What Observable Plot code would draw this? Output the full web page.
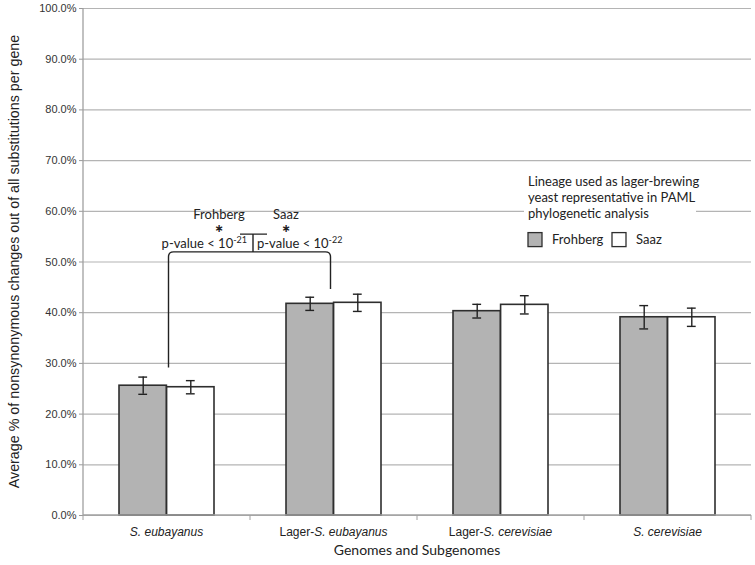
<!DOCTYPE html>
<html><head><meta charset="utf-8">
<script src="https://cdn.jsdelivr.net/npm/d3@7"></script>
<script src="https://cdn.jsdelivr.net/npm/@observablehq/plot@0.6"></script>
<style>body{margin:0;background:#fff}#chart{width:755px;height:565px}</style>
</head><body><div id="chart"></div>
<script>
// ---- data ----
const categories = ["S. eubayanus", "Lager-S. eubayanus", "Lager-S. cerevisiae", "S. cerevisiae"];
const series = ["Frohberg", "Saaz"];
const frohbergValues = [25.6, 41.75, 40.3, 39.1];
const frohbergErrors = [1.7, 1.3, 1.35, 2.3];
const saazValues = [25.3, 41.95, 41.55, 39.1];
const saazErrors = [1.3, 1.7, 1.8, 1.8];
const yTicks = [0, 10, 20, 30, 40, 50, 60, 70, 80, 90, 100];
const yTitle = "Average % of nonsynonymous changes out of all substitutions per gene";
const xTitle = "Genomes and Subgenomes";
const legendTitle = ["Lineage used as lager-brewing", "yeast representative in PAML", "phylogenetic analysis"];
const annotation = {left: "Frohberg", right: "Saaz", leftP: ["p-value < 10", "-21"], rightP: ["p-value < 10", "-22"]};

const fData = categories.map((c, i) => ({cat: c, series: "Frohberg", value: frohbergValues[i], err: frohbergErrors[i]}));
const sData = categories.map((c, i) => ({cat: c, series: "Saaz", value: saazValues[i], err: saazErrors[i]}));

// ---- layout ----
const W = 755, H = 565, mL = 83, mR = 4, mT = 8, mB = 50;
const padInner = 0.43;
const step = (W - mL - mR) / categories.length;
const bw = step * (1 - padInner);
const gridColor = "#b4b4b4";
const barStroke = "#2e2e2e";

function errMarks(data, dx) {
  const insL = bw / 2 + dx - 4.5, insR = bw / 2 - dx - 4.5;
  return [
    Plot.ruleX(data, {x: "cat", y1: d => d.value - d.err, y2: d => d.value + d.err, dx, stroke: "#222", strokeWidth: 1.4}),
    Plot.tickY(data, {x: "cat", y: d => d.value - d.err, insetLeft: insL, insetRight: insR, stroke: "#222", strokeWidth: 1.4}),
    Plot.tickY(data, {x: "cat", y: d => d.value + d.err, insetLeft: insL, insetRight: insR, stroke: "#222", strokeWidth: 1.4})
  ];
}

const chart = Plot.plot({
  width: W, height: H,
  marginLeft: mL, marginRight: mR, marginTop: mT, marginBottom: mB,
  style: {fontFamily: "'Liberation Sans', Arial, sans-serif", background: "#fff"},
  x: {type: "band", domain: categories, paddingInner: padInner, paddingOuter: padInner / 2, axis: null},
  y: {domain: [0, 100], axis: null},
  color: {domain: series, range: ["#b3b3b3", "#ffffff"]},
  marks: [
    Plot.gridY(yTicks, {stroke: gridColor, strokeOpacity: 1, strokeWidth: 1.2}),
    Plot.axisY(yTicks, {tickSize: 4, tickPadding: 3, stroke: "#999", tickFormat: d => d.toFixed(1) + "%", fontSize: 11, fill: "#333", label: null}),
    Plot.barY(fData, {x: "cat", y: "value", fill: "series", stroke: barStroke, strokeWidth: 1.6, insetRight: bw / 2}),
    Plot.barY(sData, {x: "cat", y: "value", fill: "series", stroke: barStroke, strokeWidth: 1.6, insetLeft: bw / 2}),
    ...errMarks(fData, -bw / 4),
    ...errMarks(sData, bw / 4)
  ]
});
document.getElementById("chart").appendChild(chart);

// ---- overlay using the chart's scales ----
const xs = chart.scale("x"), ys = chart.scale("y");
const xBand = xs.bandwidth ?? bw;
const xStep = xs.step ?? step;
const cx = c => xs.apply(c) + xBand / 2;
const y = v => ys.apply(v);
const svg = d3.select(chart);
const g = svg.append("g").attr("text-anchor", "start");

// axes lines and x ticks
g.append("line").attr("x1", cx(categories[0]) - xStep / 2).attr("x2", cx(categories[0]) - xStep / 2)
  .attr("y1", y(0)).attr("y2", y(100)).attr("stroke", "#a0a0a0").attr("stroke-width", 1.3);
g.append("line").attr("x1", cx(categories[0]) - xStep / 2).attr("x2", cx(categories[categories.length - 1]) + xStep / 2)
  .attr("y1", y(0)).attr("y2", y(0)).attr("stroke", "#a0a0a0").attr("stroke-width", 1.3);
[...categories.map(c => cx(c) - xStep / 2), cx(categories[categories.length - 1]) + xStep / 2].forEach(x => {
  g.append("line").attr("x1", x).attr("x2", x).attr("y1", y(0)).attr("y2", y(0) + 5).attr("stroke", "#a0a0a0");
});

// x tick labels (italic species names)
categories.forEach(c => {
  const t = g.append("text").attr("x", cx(c)).attr("y", y(0) + 21).attr("text-anchor", "middle")
    .attr("font-family", "'Liberation Sans', Arial, sans-serif").attr("font-size", 12).attr("fill", "#222");
  if (c.startsWith("Lager-")) {
    t.append("tspan").text("Lager-");
    t.append("tspan").attr("font-style", "italic").text(c.slice(6));
  } else {
    t.append("tspan").attr("font-style", "italic").text(c);
  }
});

// axis titles
g.append("text").attr("x", (mL + W - mR) / 2).attr("y", y(0) + 40).attr("text-anchor", "middle")
  .attr("font-family", "Lato, sans-serif").attr("font-size", 14).attr("fill", "#222").text(xTitle);
g.append("text").attr("transform", `translate(19,${(y(0) + y(100)) / 2}) rotate(-90)`).attr("text-anchor", "middle")
  .attr("font-family", "'Liberation Sans', Arial, sans-serif").attr("font-size", 14.3).attr("fill", "#222").text(yTitle);

// significance bracket
const xL = cx(categories[0]) + 2, xR = cx(categories[1]) - 3, xM = cx(categories[0]) + xStep / 2 + 3;
const yTop = y(51.9), yLend = y(29.1), yRend = y(44.6), yBump = y(55.4), r = 5;
const path = d3.path();
path.moveTo(xL, yLend); path.lineTo(xL, yTop + r); path.quadraticCurveTo(xL, yTop, xL + r, yTop);
path.lineTo(xR - r, yTop); path.quadraticCurveTo(xR, yTop, xR, yTop + r); path.lineTo(xR, yRend);
path.moveTo(xM, yTop); path.lineTo(xM, yBump);
path.moveTo(xM - 13, yBump); path.lineTo(xM + 14, yBump);
g.append("path").attr("d", path.toString()).attr("fill", "none").attr("stroke", "#222").attr("stroke-width", 1.4);

const annFont = "Lato, sans-serif";
function ann(x, yy, txt, anchor, size = 13, family = annFont) {
  return g.append("text").attr("x", x).attr("y", yy).attr("text-anchor", anchor)
    .attr("font-family", family).attr("font-size", size).attr("fill", "#222").text(txt);
}
ann(xM - 34, yTop - 33, annotation.left, "middle");
ann(xM + 33, yTop - 33, annotation.right, "middle");
ann(xM - 34, yTop - 20, "\u2217", "middle", 11, "'DejaVu Sans', sans-serif").attr("font-weight", "bold");
ann(xM + 33, yTop - 20, "\u2217", "middle", 11, "'DejaVu Sans', sans-serif").attr("font-weight", "bold");
function pval(x, anchor, parts) {
  const t = g.append("text").attr("x", x).attr("y", yTop - 4).attr("text-anchor", anchor)
    .attr("font-family", annFont).attr("font-size", 13).attr("fill", "#222");
  t.append("tspan").text(parts[0]);
  t.append("tspan").attr("font-size", 9).attr("dy", -5).text(parts[1]);
}
pval(xM - 6, "end", annotation.leftP);
pval(xM + 4, "start", annotation.rightP);

// legend
const lx = 528;
g.append("rect").attr("x", lx - 4).attr("y", y(66.5)).attr("width", 172).attr("height", y(51.5) - y(66.5)).attr("fill", "#fff");
legendTitle.forEach((s, i) => {
  g.append("text").attr("x", lx).attr("y", y(64.8) + i * 16).attr("text-anchor", "start").attr("font-family", annFont)
    .attr("font-size", 13).attr("fill", "#222").text(s);
});
const swY = y(55.7);
[[lx, series[0], "#b3b3b3"], [lx + 84, series[1], "#ffffff"]].forEach(([x, name, col]) => {
  g.append("rect").attr("x", x).attr("y", swY).attr("width", 14).attr("height", 14).attr("fill", col)
    .attr("stroke", barStroke).attr("stroke-width", 1.3);
  g.append("text").attr("x", x + 24).attr("y", swY + 11.5).attr("text-anchor", "start").attr("font-family", annFont)
    .attr("font-size", 13).attr("fill", "#222").text(name);
});
</script>
</body></html>
